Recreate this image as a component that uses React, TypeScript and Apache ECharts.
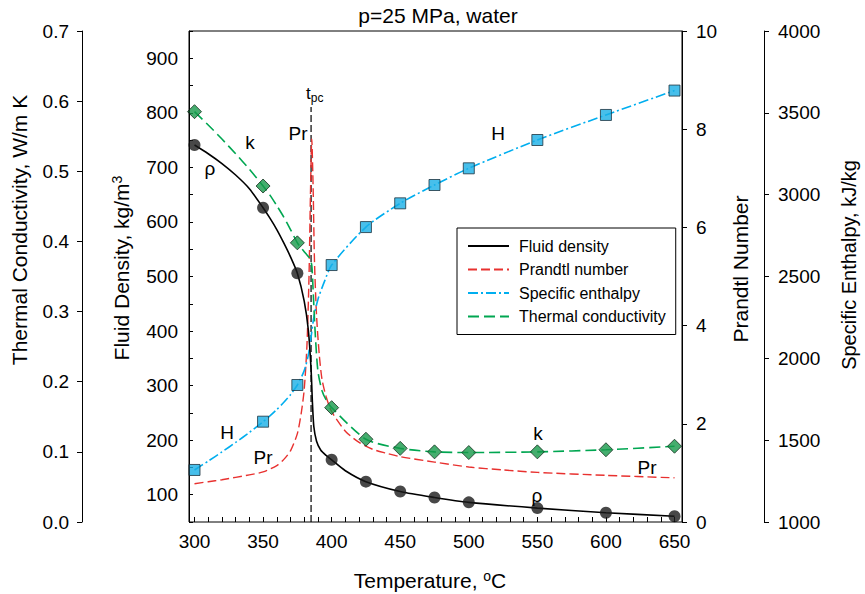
import React, { useEffect, useRef } from "react";
import * as echarts from "echarts";

// ---------- data ----------
const markTemps = [300, 350, 375, 400, 425, 450, 475, 500, 550, 600, 650];
const densityMarks = [741, 626, 506, 164, 124, 106, 95, 86, 75.5, 67, 60.5];
const enthalpyMarks = [1318, 1613, 1837, 2570, 2802, 2947, 3059, 3161, 3334, 3487, 3636];
const conductivityMarks = [0.585, 0.479, 0.398, 0.163, 0.118, 0.105, 0.1, 0.099, 0.1, 0.103, 0.108];

const densityCurve = [
  [300, 741], [310, 725], [320, 707], [330, 686], [340, 661], [350, 626], [355, 607],
  [360, 586], [365, 562], [370, 536], [375, 506], [380, 455], [383, 402], [385, 330],
  [386, 268], [387, 225], [389, 198], [392, 182], [396, 172], [400, 164], [410, 144],
  [425, 124], [450, 106], [475, 95], [500, 86], [550, 75.5], [600, 67], [650, 60.5],
];
const prandtlCurve = [
  [300, 0.78], [310, 0.82], [320, 0.86], [330, 0.91], [340, 0.96], [350, 1.02], [360, 1.15],
  [365, 1.27], [370, 1.45], [375, 1.8], [378, 2.25], [380, 2.7], [382, 3.6], [383.5, 5.0],
  [384.5, 6.6], [385.5, 7.8], [386.5, 6.8], [387.5, 5.3], [389, 4.2], [391, 3.4], [393, 2.9],
  [396, 2.55], [400, 2.25], [410, 1.85], [420, 1.62], [430, 1.48], [440, 1.4], [450, 1.33],
  [475, 1.22], [500, 1.12], [525, 1.06], [550, 1.01], [600, 0.95], [650, 0.9],
];
const enthalpyCurve = [
  [300, 1318], [310, 1372], [320, 1428], [330, 1486], [340, 1547], [350, 1613], [355, 1648],
  [360, 1687], [365, 1730], [370, 1778], [375, 1837], [380, 1925], [383, 2020], [385, 2130],
  [387, 2250], [390, 2360], [395, 2475], [400, 2570], [425, 2802], [450, 2947], [475, 3059],
  [500, 3161], [550, 3334], [600, 3487], [650, 3636],
];
const conductivityCurve = [
  [300, 0.585], [310, 0.566], [320, 0.546], [330, 0.525], [340, 0.503], [350, 0.479],
  [355, 0.466], [360, 0.451], [365, 0.435], [370, 0.417], [375, 0.398], [378, 0.39],
  [381, 0.383], [384, 0.376], [385.5, 0.366], [386.5, 0.33], [388, 0.27], [390, 0.215],
  [393, 0.187], [396, 0.174], [400, 0.163], [425, 0.118], [450, 0.105], [475, 0.1],
  [500, 0.099], [550, 0.1], [600, 0.103], [650, 0.108],
];
const tpcTemp = 385;
const tpcLine = [[tpcTemp, 0], [tpcTemp, 8.45]];

const seriesNames = ["Fluid density", "Prandtl number", "Specific enthalpy", "Thermal conductivity"];

// ---------- styling ----------
const FONT = "'Liberation Sans', Arial, Helvetica, sans-serif";
const BLACK = "#000";
const RED = "#e8312f";
const CYAN = "#00aeef";
const GREEN = "#00a651";

const tickLabel = { fontSize: 19, color: BLACK, fontFamily: FONT };

function txt(x: number, y: number, text: string, size = 19, extra: any = {}) {
  return {
    type: "text",
    x,
    y,
    z: 50,
    ...extra,
    style: {
      text,
      fontSize: size,
      fontFamily: FONT,
      fill: BLACK,
      align: "center",
      verticalAlign: "middle",
      ...(extra.style || {}),
    },
  };
}

export default function App() {
  const ref = useRef<HTMLDivElement>(null);
  useEffect(() => {
    document.body.style.margin = "0";
    if (!ref.current) return;
    const chart = echarts.init(ref.current, null, { renderer: "svg" });

    const yBase = (extra: any) => ({
      type: "value",
      splitLine: { show: false },
      axisLine: { show: true, onZero: false, lineStyle: { color: BLACK, width: 1 } },
      axisTick: { show: true, inside: false, length: 5, lineStyle: { color: BLACK } },
      ...extra,
    });

    const option: any = {
      animation: false,
      backgroundColor: "#fff",
      grid: { left: 194.5, right: 190.5, top: 31, bottom: 72, containLabel: false },
      xAxis: {
        type: "value",
        min: 300,
        max: 650,
        interval: 10,
        splitLine: { show: false },
        axisLine: { show: false, onZero: false },
        axisTick: { show: true, inside: true, length: 5, lineStyle: { color: BLACK } },
        axisLabel: {
          ...tickLabel,
          margin: 10,
          formatter: (v: number) => (v % 50 === 0 ? String(v) : ""),
        },
      },
      yAxis: [
        yBase({
          position: "left",
          offset: 5.5,
          min: 50,
          max: 950,
          interval: 50,
          axisTick: { show: true, inside: true, length: 4, lineStyle: { color: BLACK } },
          axisLabel: {
            ...tickLabel,
            margin: 11,
            formatter: (v: number) => (v % 100 === 0 ? String(v) : ""),
          },
        }),
        yBase({
          position: "right",
          offset: 7.5,
          min: 0,
          max: 10,
          interval: 2,
          axisLabel: { ...tickLabel, margin: 14, formatter: (v: number) => String(v) },
        }),
        yBase({
          position: "right",
          offset: 89.5,
          min: 1000,
          max: 4000,
          interval: 500,
          axisLabel: { ...tickLabel, margin: 14, formatter: (v: number) => String(v) },
        }),
        yBase({
          position: "left",
          offset: 112.5,
          min: 0,
          max: 0.7,
          interval: 0.1,
          axisLabel: { ...tickLabel, margin: 13, formatter: (v: number) => v.toFixed(1) },
        }),
      ],
      legend: {
        data: seriesNames,
        orient: "vertical",
        left: 457,
        top: 228,
        itemWidth: 41,
        itemHeight: 14,
        itemGap: 7.5,
        padding: [10, 10, 10, 10],
        borderColor: BLACK,
        borderWidth: 1,
        borderRadius: 0,
        backgroundColor: "#fff",
        itemStyle: { color: "rgba(0,0,0,0)", borderWidth: 0, opacity: 0 },
        textStyle: { fontSize: 16, color: BLACK, fontFamily: FONT, padding: [0, 0, 0, 5] },
      },
      series: [
        {
          name: seriesNames[0],
          type: "line",
          yAxisIndex: 0,
          data: densityCurve,
          symbol: "none",
          smooth: 0.25,
          lineStyle: { color: BLACK, width: 1.6, type: "solid" },
          itemStyle: { color: BLACK },
          z: 3,
        },
        {
          name: seriesNames[1],
          type: "line",
          yAxisIndex: 1,
          data: prandtlCurve,
          symbol: "none",
          smooth: 0.25,
          lineStyle: { color: RED, width: 1.4, type: [9, 4] },
          itemStyle: { color: RED },
          z: 2,
        },
        {
          name: seriesNames[2],
          type: "line",
          yAxisIndex: 2,
          data: enthalpyCurve,
          symbol: "none",
          smooth: 0.25,
          lineStyle: { color: CYAN, width: 1.6, type: [10, 3, 2, 3] },
          itemStyle: { color: CYAN },
          z: 2,
        },
        {
          name: seriesNames[3],
          type: "line",
          yAxisIndex: 3,
          data: conductivityCurve,
          symbol: "none",
          smooth: 0.25,
          lineStyle: { color: GREEN, width: 1.6, type: [11, 5] },
          itemStyle: { color: GREEN },
          z: 2,
        },
        {
          name: "tpc",
          type: "line",
          yAxisIndex: 1,
          data: tpcLine,
          symbol: "none",
          lineStyle: { color: BLACK, width: 1.2, type: [7, 3] },
          z: 1,
          silent: true,
        },
        {
          name: "density marks",
          type: "scatter",
          yAxisIndex: 0,
          data: markTemps.map((t, i) => [t, densityMarks[i]]),
          symbol: "circle",
          symbolSize: 12,
          itemStyle: { color: "#1a1a1a" },
          z: 6,
        },
        {
          name: "enthalpy marks",
          type: "scatter",
          yAxisIndex: 2,
          data: markTemps.map((t, i) => [t, enthalpyMarks[i]]),
          symbol: "rect",
          symbolSize: 11,
          itemStyle: { color: "#19afe6", borderColor: "#1d3340", borderWidth: 1 },
          z: 6,
        },
        {
          name: "conductivity marks",
          type: "scatter",
          yAxisIndex: 3,
          data: markTemps.map((t, i) => [t, conductivityMarks[i]]),
          symbol: "diamond",
          symbolSize: 14,
          itemStyle: { color: "#17994a", borderColor: "#16301f", borderWidth: 1 },
          z: 6,
        },
      ],
      graphic: [
        {
          type: "rect",
          shape: { x: 189, y: 31, width: 493, height: 491 },
          style: { fill: "none", stroke: BLACK, lineWidth: 1 },
          z: 40,
          silent: true,
        },
        txt(438, 15, "p=25 MPa, water", 21),
        {
          type: "text",
          x: 430,
          y: 580,
          z: 50,
          style: {
            text: "Temperature, {sup|o}C",
            fontSize: 21,
            fontFamily: FONT,
            fill: BLACK,
            align: "center",
            verticalAlign: "middle",
            rich: {
              sup: { fontSize: 14, fontFamily: FONT, fill: BLACK, verticalAlign: "top", lineHeight: 22 },
            },
          },
        },
        txt(19, 230, "Thermal Conductivity, W/m K", 21, { rotation: Math.PI / 2 }),
        {
          type: "text",
          x: 121,
          y: 268,
          z: 50,
          rotation: Math.PI / 2,
          style: {
            text: "Fluid Density, kg/m{sup|3}",
            fontSize: 21,
            fontFamily: FONT,
            fill: BLACK,
            align: "center",
            verticalAlign: "middle",
            rich: {
              sup: { fontSize: 14, fontFamily: FONT, fill: BLACK, verticalAlign: "top", lineHeight: 23 },
            },
          },
        },
        txt(740, 269, "Prandtl Number", 21, { rotation: Math.PI / 2 }),
        txt(849, 265, "Specific Enthalpy, kJ/kg", 20, { rotation: Math.PI / 2 }),
        // curve annotations
        txt(210, 168, "ρ", 19),
        txt(250, 142, "k", 19),
        txt(298, 133, "Pr", 19),
        txt(498, 133, "H", 19),
        txt(227, 432, "H", 19),
        txt(263, 457, "Pr", 19),
        txt(538, 433, "k", 19),
        txt(647, 467, "Pr", 19),
        txt(537, 495, "ρ", 19),
        {
          type: "text",
          x: 306,
          y: 93,
          z: 50,
          style: {
            text: "{t|t}{s|pc}",
            fontFamily: FONT,
            fill: BLACK,
            align: "left",
            verticalAlign: "middle",
            rich: {
              t: { fontSize: 17, fontFamily: FONT, fill: BLACK, lineHeight: 22 },
              s: { fontSize: 12, fontFamily: FONT, fill: BLACK, verticalAlign: "bottom", lineHeight: 22 },
            },
          },
        },
      ],
    };

    chart.setOption(option);
    return () => chart.dispose();
  }, []);

  return <div ref={ref} style={{ width: 865, height: 594 }} />;
}
